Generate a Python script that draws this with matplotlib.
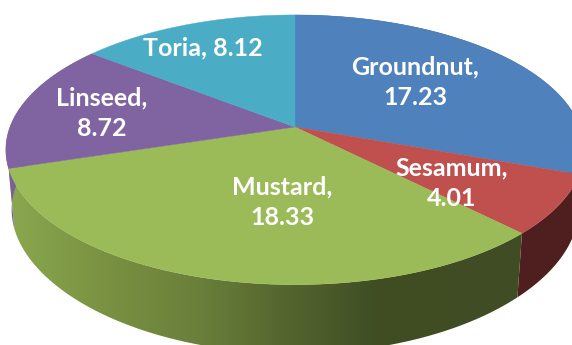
"""3D-look pie chart of oilseed shares."""

import matplotlib
matplotlib.use("Agg")
import matplotlib.pyplot as plt
import numpy as np
from matplotlib.colors import LinearSegmentedColormap
from matplotlib.patches import Polygon

crops = ["Groundnut", "Sesamum", "Mustard", "Linseed", "Toria"]
values = [17.23, 4.01, 18.33, 8.72, 8.12]
top_colors = ["#4f81bd", "#c0504d", "#9bbb59", "#8064a2", "#4bacc6"]

CX, CY = 295, 127
RX, RY = 285, 131
PERSP = 0.169


def project(theta, level=0.0):
    """theta is clockwise from 12 o'clock; level 0 = top face, 1 = bottom face."""
    px = np.sin(theta)
    py = -np.cos(theta)
    s = 1 / (1 - PERSP * py) * (1 - 0.02 * level)
    # rim looks deeper towards the viewer
    depth = 60 + 12 * np.clip(py, 0, None) ** 2
    return CX + RX * px * s, CY + RY * py * s + depth * level


fig = plt.figure(figsize=(5.72, 3.45), dpi=100)
ax = fig.add_axes([0, 0, 1, 1])
ax.set_xlim(0, 572)
ax.set_ylim(345, 0)
ax.axis("off")

edges = np.deg2rad(np.cumsum([0] + values) / sum(values) * 360)

side_maps = {
    "Groundnut": [(0, "#2c4a6e"), (1, "#2c4a6e")],
    "Sesamum": [(0, "#4f1f1f"), (1, "#4f1f1f")],
    "Mustard": [(0, "#8aa84f"), (0.18, "#7a9242"), (0.37, "#6a7f3a"),
                (0.53, "#55672f"), (0.71, "#404e24"), (1, "#404c23")],
    "Linseed": [(0, "#7a5f9c"), (1, "#7a5f9c")],
}

# rim first, top faces go over it
for name, a0, a1 in zip(crops, edges[:-1], edges[1:]):
    if name not in side_maps:
        continue
    t = np.linspace(a0, a1, 120)
    x0, y0 = project(t, 0)
    x1, y1 = project(t, 1)
    xs = np.r_[x0, x1[::-1]]
    ys = np.r_[y0, y1[::-1]]
    poly = Polygon(np.c_[xs, ys], closed=True, fc="none", ec="none")
    ax.add_patch(poly)
    cmap = LinearSegmentedColormap.from_list(name, side_maps[name])
    im = ax.imshow(
        np.linspace(0, 1, 256)[None, :],
        cmap=cmap,
        aspect="auto",
        extent=(xs.min(), xs.max(), ys.max(), ys.min()),
        zorder=1,
    )
    im.set_clip_path(poly)
ax.set_xlim(0, 572)
ax.set_ylim(345, 0)

for color, a0, a1 in zip(top_colors, edges[:-1], edges[1:]):
    t = np.linspace(a0, a1, 120)
    x, y = project(t, 0)
    pts = np.c_[np.r_[CX, x], np.r_[CY, y]]
    ax.add_patch(Polygon(pts, closed=True, fc=color, ec=color, lw=0.3, zorder=2))

label_x = [415, 452, 282, 102, 203]
label_y = [82, 183, 202, 113, 48]
label_text = [
    f"{c},\n{v}" if c != "Toria" else f"{c}, {v}"
    for c, v in zip(crops, values)
]
for text, lx, ly in zip(label_text, label_x, label_y):
    ax.text(lx, ly, text, color="white", fontsize=18, family="Lato",
            fontweight="bold", ha="center", va="center", linespacing=1.42, zorder=3)

fig.savefig("out.png", dpi=100)
